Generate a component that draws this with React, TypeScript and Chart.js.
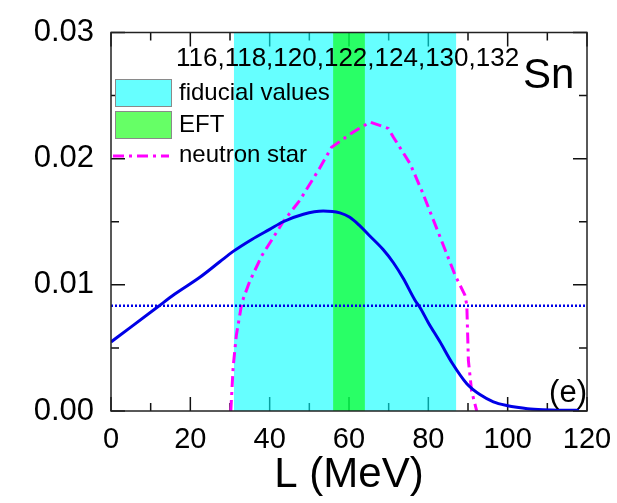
import React, { useEffect, useRef } from "react";
import { Chart, registerables } from "chart.js";

Chart.register(...registerables);

// ---- data ----
const blueL = [0, 5, 11.9, 16, 22.4, 27.5, 30.8, 35.5, 40, 43.4, 48.5, 53.5, 57.7, 60.2, 62.5, 65, 68.6, 71.2, 73.7, 76.6, 77.9, 80, 82.9, 86, 89.7, 93, 96.4, 100, 102.3, 105, 109, 113, 118];
const blueV = [5.47, 6.65, 8.28, 9.25, 10.6, 11.85, 12.65, 13.6, 14.4, 15.0, 15.6, 15.85, 15.7, 15.35, 14.75, 13.95, 12.8, 11.75, 10.5, 8.8, 8.2, 7.0, 5.5, 3.8, 2.16, 1.3, 0.73, 0.42, 0.29, 0.18, 0.1, 0.06, 0.05];
const nsL = [30.2, 30.8, 31.6, 33, 35, 38, 43.4, 47.6, 52.7, 55.6, 61, 65.3, 69.9, 71.2, 75.4, 78.3, 81.2, 84.2, 86.7, 89.2, 89.7, 90.1, 90.9, 92.2];
const nsV = [0, 3.5, 6, 8.6, 10.3, 12.3, 15.0, 16.7, 19.3, 20.9, 22.1, 22.9, 22.4, 21.7, 19.6, 17.5, 15.2, 12.8, 10.8, 9.2, 8.4, 4.0, 1.6, 0];
const thresholdL = [0, 120];
const thresholdV = [8.34, 8.34];
const fiducialBand = [31, 87];
const eftBand = [56, 64];
const xMajorTicks = [0, 20, 40, 60, 80, 100, 120];
const xMinorTicks = [10, 30, 50, 70, 90, 110];
const yMajorTicks = [0, 0.01, 0.02, 0.03];
const yMinorTicks = [0.005, 0.015, 0.025];
const legendLabels = ["fiducial values", "EFT", "neutron star"];
const isotopeLabel = "116,118,120,122,124,130,132";
const elementLabel = "Sn";
const panelLabel = "(e)";
const xTitle = "L (MeV)";

const FONT = "'Liberation Sans', Arial, sans-serif";
const CYAN = "rgba(0,255,255,0.6)";
const GREEN = "rgba(0,255,0,0.6)";
const MAGENTA = "#ff00ff";
const BLUE = "#0000e6";

const toPts = (xs: number[], ys: number[]) => xs.map((x, i) => ({ x, y: ys[i] / 1000 }));

const decorPlugin = {
  id: "decor",
  beforeDatasetsDraw(chart: any) {
    const { ctx, chartArea: a, scales } = chart;
    const xs = scales.x, ys = scales.y;
    ctx.save();
    ctx.strokeStyle = "#111";
    ctx.lineWidth = 1.5;
    const vt = (v: number, len: number) => {
      const px = xs.getPixelForValue(v);
      ctx.beginPath();
      ctx.moveTo(px, a.bottom); ctx.lineTo(px, a.bottom - len);
      ctx.moveTo(px, a.top); ctx.lineTo(px, a.top + len);
      ctx.stroke();
    };
    const ht = (v: number, len: number) => {
      const py = ys.getPixelForValue(v);
      ctx.beginPath();
      ctx.moveTo(a.left, py); ctx.lineTo(a.left + len, py);
      ctx.moveTo(a.right, py); ctx.lineTo(a.right - len, py);
      ctx.stroke();
    };
    xMajorTicks.forEach((v) => vt(v, 14));
    xMinorTicks.forEach((v) => vt(v, 8));
    yMajorTicks.forEach((v) => ht(v, 14));
    yMinorTicks.forEach((v) => ht(v, 8));
    const band = (b: number[], color: string) => {
      const x0 = xs.getPixelForValue(b[0]);
      const x1 = xs.getPixelForValue(b[1]);
      ctx.fillStyle = color;
      ctx.fillRect(x0, a.top, x1 - x0, a.bottom - a.top);
    };
    band(fiducialBand, CYAN);
    band(eftBand, GREEN);
    ctx.restore();
  },
  afterDatasetsDraw(chart: any) {
    const { ctx, chartArea: a } = chart;
    ctx.save();
    ctx.strokeStyle = "#222";
    ctx.lineWidth = 1.5;
    ctx.strokeRect(a.left, a.top, a.right - a.left, a.bottom - a.top);

    // legend
    ctx.fillStyle = "#fff";
    ctx.fillRect(115, 79, 56, 27);
    ctx.fillStyle = CYAN;
    ctx.fillRect(115, 79, 56, 27);
    ctx.strokeStyle = "#8a8a8a";
    ctx.lineWidth = 1;
    ctx.strokeRect(115.5, 79.5, 56, 27);
    ctx.fillStyle = "#fff";
    ctx.fillRect(115, 111, 56, 27);
    ctx.fillStyle = GREEN;
    ctx.fillRect(115, 111, 56, 27);
    ctx.strokeRect(115.5, 111.5, 56, 27);
    ctx.strokeStyle = MAGENTA;
    ctx.lineWidth = 3;
    ctx.setLineDash([11, 5, 3, 5]);
    ctx.beginPath();
    ctx.moveTo(113, 156);
    ctx.lineTo(169, 156);
    ctx.stroke();
    ctx.setLineDash([]);

    ctx.fillStyle = "#000";
    ctx.textAlign = "left";
    ctx.textBaseline = "alphabetic";
    ctx.font = `24px ${FONT}`;
    ctx.fillText(legendLabels[0], 179, 100);
    ctx.fillText(legendLabels[1], 179, 132);
    ctx.fillText(legendLabels[2], 179, 162);

    ctx.font = `26px ${FONT}`;
    ctx.fillText(isotopeLabel, 176, 66);
    ctx.font = `42px ${FONT}`;
    ctx.fillText(elementLabel, 523, 88);
    ctx.font = `31px ${FONT}`;
    ctx.textAlign = "right";
    ctx.fillText(panelLabel, 587, 402);
    ctx.restore();
  },
};

export default function App() {
  const ref = useRef<HTMLCanvasElement>(null);
  useEffect(() => {
    document.body.style.margin = "0";
    const chart = new Chart(ref.current as HTMLCanvasElement, {
      type: "line",
      data: {
        datasets: [
          {
            label: "blue",
            data: toPts(blueL, blueV),
            borderColor: BLUE,
            borderWidth: 3,
            pointRadius: 0,
            tension: 0.4,
            cubicInterpolationMode: "monotone",
            fill: false,
          },
          {
            label: "threshold",
            data: toPts(thresholdL, thresholdV),
            borderColor: BLUE,
            borderWidth: 2.5,
            borderDash: [2, 2],
            pointRadius: 0,
            fill: false,
          },
          {
            label: legendLabels[2],
            data: toPts(nsL, nsV),
            borderColor: MAGENTA,
            borderWidth: 3,
            borderDash: [11, 5, 3, 5],
            pointRadius: 0,
            tension: 0,
            fill: false,
          },
        ],
      },
      options: {
        animation: false,
        responsive: false,
        devicePixelRatio: 1,
        layout: { padding: { left: 0, top: 27, right: 30, bottom: 0 } },
        plugins: { legend: { display: false }, tooltip: { enabled: false } },
        scales: {
          x: {
            type: "linear",
            min: 0,
            max: 120,
            grid: { display: false, drawTicks: false },
            border: { display: false },
            ticks: {
              stepSize: 20,
              padding: 0,
              color: "#000",
              font: { family: FONT, size: 29, lineHeight: 2 },
              maxRotation: 0,
            },
            title: {
              display: true,
              text: xTitle,
              color: "#000",
              font: { family: FONT, size: 42, lineHeight: 1 },
              padding: { top: 0, bottom: 7 },
            },
            afterFit: (s: any) => { s.height = 92; },
          },
          y: {
            min: 0,
            max: 0.03,
            grid: { display: false, drawTicks: false },
            border: { display: false },
            ticks: {
              stepSize: 0.01,
              padding: 17,
              color: "#000",
              font: { family: FONT, size: 31, lineHeight: 1 },
              callback: (v: any) => Number(v).toFixed(2),
            },
            afterFit: (s: any) => { s.width = 111; },
          },
        },
      },
      plugins: [decorPlugin],
    } as any);
    return () => chart.destroy();
  }, []);
  return (
    <div style={{ position: "fixed", left: 0, top: 0, width: 617, height: 503, background: "#fff" }}>
      <canvas ref={ref} width={617} height={503} />
    </div>
  );
}
